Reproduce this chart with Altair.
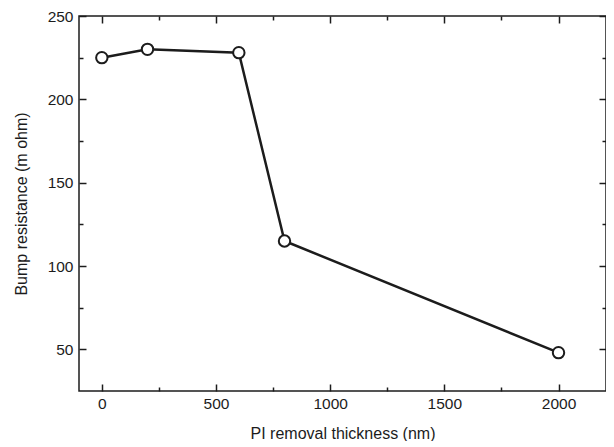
import altair as alt
import pandas as pd

# Data
thickness = [0, 200, 600, 800, 2000]
resistance = [225, 230, 228, 115, 48]
x_major = [0, 500, 1000, 1500, 2000]
x_minor = [250, 750, 1250, 1750]
y_major = [50, 100, 150, 200, 250]
y_minor = [75, 125, 175, 225]

df = pd.DataFrame({"x": thickness, "y": resistance})

W, H = 527, 375
FONT = "Liberation Sans"
INK = "#1c1c1c"

xs = alt.Scale(domain=[-100, 2208], nice=False, zero=False)
ys = alt.Scale(domain=[25, 250], nice=False, zero=False)

main_x = alt.Axis(orient="bottom", values=x_major, ticks=False, domain=False, grid=False,
                  labelPadding=5, labelFontSize=15.5, titleFontSize=16, titlePadding=14,
                  title="PI removal thickness (nm)", format="d")
main_y = alt.Axis(orient="left", values=y_major, ticks=False, domain=False, grid=False,
                  labelPadding=6, labelFontSize=15.5, titleFontSize=16, titlePadding=18,
                  title="Bump resistance (m ohm)", format="d")

base = alt.Chart(df)
line = base.mark_line(color=INK, strokeWidth=2.5).encode(
    x=alt.X("x:Q", scale=xs, axis=main_x),
    y=alt.Y("y:Q", scale=ys, axis=main_y),
)
points = base.mark_circle(color="white", opacity=1, stroke=INK, strokeWidth=2, size=130).encode(
    x=alt.X("x:Q", scale=xs, axis=None),
    y=alt.Y("y:Q", scale=ys, axis=None),
)


def tick_layer(xorient, yorient, xvals, yvals, size):
    return base.mark_point(opacity=0).encode(
        x=alt.X("x:Q", scale=xs, axis=alt.Axis(
            orient=xorient, offset=-H, values=xvals, labels=False, domain=False,
            grid=False, title="", tickSize=size, tickColor=INK, tickWidth=1.5)),
        y=alt.Y("y:Q", scale=ys, axis=alt.Axis(
            orient=yorient, offset=-W, values=yvals, labels=False, domain=False,
            grid=False, title="", tickSize=size, tickColor=INK, tickWidth=1.5)),
    )


layers = [
    line,
    points,
    tick_layer("top", "right", x_major, y_major, 7),      # inward ticks at bottom/left
    tick_layer("bottom", "left", x_major, y_major, 7),    # inward ticks at top/right
    tick_layer("top", "right", x_minor, y_minor, 4),
    tick_layer("bottom", "left", x_minor, y_minor, 4),
]

chart = alt.layer(*layers).resolve_axis(x="independent", y="independent").properties(
    width=W, height=H,
    autosize=alt.AutoSizeParams(type="none"),
    padding={"left": 71, "top": 8, "right": 0, "bottom": 50},
    background="white",
).configure_view(
    stroke=INK, strokeWidth=1.5
).configure_axis(
    labelFont=FONT, titleFont=FONT, labelColor=INK, titleColor=INK,
    titleFontWeight="normal",
)

chart.save("out.html", embed_options={"renderer": "svg", "actions": False})
